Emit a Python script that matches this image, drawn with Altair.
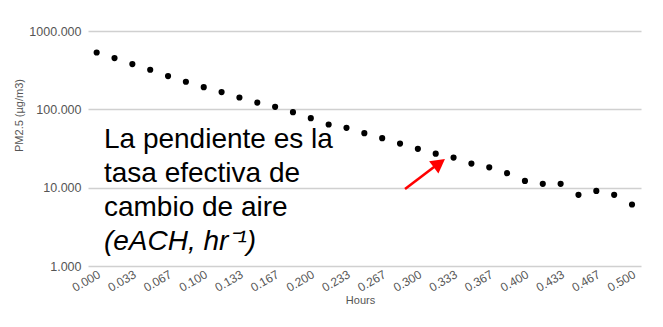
import altair as alt
import pandas as pd

# ---- data ----
minutes = list(range(0, 31))
pm25 = [532, 451, 378, 320, 266, 225, 192, 166, 141.5, 122, 107.6, 92, 77.2, 64, 58,
        49.6, 42.8, 36.5, 31.3, 27.2, 24.2, 20.3, 18.2, 15.3, 12.2, 11.2, 11.2, 8.1, 9.1, 8.1, 6.1]

x_ticks = [0, 1/30, 2/30, 3/30, 4/30, 5/30, 6/30, 7/30, 8/30, 9/30, 10/30,
           11/30, 12/30, 13/30, 14/30, 15/30]
x_tick_labels = ["0.000", "0.033", "0.067", "0.100", "0.133", "0.167", "0.200", "0.233",
                 "0.267", "0.300", "0.333", "0.367", "0.400", "0.433", "0.467", "0.500"]
y_ticks = [1, 10, 100, 1000]

note_lines = ["La pendiente es la", "tasa efectiva de", "cambio de aire"]
note_italic = "(eACH, hr\u207b\u00b9)"
note_x = [0.0068]
note_y = [31.9]
note_italic_y = [1.59]

arrow_tail = [0.288, 9.62]
arrow_end = [0.316, 18.8]
arrow_tip = [0.3253, 23.3]

df = pd.DataFrame({"hours": [m / 60 for m in minutes], "pm": pm25})

FONT = "Liberation Sans"
GRAY = "#555555"
PLOT_W, PLOT_H = 553, 235

xscale = alt.Scale(domain=[-0.0081, 0.5084], nice=False, zero=False)
yscale = alt.Scale(type="log", domain=[1, 1000], nice=False)

points = alt.Chart(df).mark_circle(size=38, color="black", opacity=1).encode(
    x=alt.X("hours:Q", scale=xscale,
            axis=alt.Axis(values=x_ticks, labels=False, title="Hours", grid=False,
                          domain=False, ticks=False,
                          titleFont=FONT, titleFontSize=11, titleFontWeight="normal",
                          titleColor=GRAY, titleX=272, titleY=34,
                          titleBaseline="middle", titleAlign="center")),
    y=alt.Y("pm:Q", scale=yscale,
            axis=alt.Axis(values=y_ticks, format=".3f", title="PM2.5 (\u00b5g/m3)",
                          grid=True, gridColor="#d0d0d0", gridWidth=1.3,
                          domain=False, ticks=False, labelPadding=7,
                          labelFontSize=12.5, labelColor=GRAY, labelFont=FONT,
                          titleFont=FONT, titleFontSize=11, titleFontWeight="normal",
                          titleColor=GRAY, titleX=-69, titleY=84, titleAngle=-90,
                          titleBaseline="middle", titleAlign="center")),
)

tick_df = pd.DataFrame({"x": x_ticks, "lab": x_tick_labels})
tick_labels = alt.Chart(tick_df).mark_text(
    align="right", baseline="middle", angle=330, fontSize=12, font=FONT,
    color=GRAY, dx=3,
).encode(x=alt.X("x:Q", scale=xscale), y=alt.value(PLOT_H + 9), text="lab:N")

note_df = pd.DataFrame({"x": note_x, "y": note_y, "t": [note_lines]})
note = alt.Chart(note_df).mark_text(
    align="left", baseline="alphabetic", fontSize=28, font=FONT, color="black",
    lineHeight=34,
).encode(x=alt.X("x:Q", scale=xscale), y=alt.Y("y:Q", scale=yscale), text="t")

note2_df = pd.DataFrame({"x": note_x, "y": note_italic_y, "t": [note_italic]})
note2 = alt.Chart(note2_df).mark_text(
    align="left", baseline="alphabetic", fontSize=28, font=FONT, color="black",
    fontStyle="italic",
).encode(x=alt.X("x:Q", scale=xscale), y=alt.Y("y:Q", scale=yscale), text="t:N")

arrow_df = pd.DataFrame({"x": [arrow_tail[0]], "y": [arrow_tail[1]],
                         "x2": [arrow_end[0]], "y2": [arrow_end[1]]})
arrow_line = alt.Chart(arrow_df).mark_rule(color="#ff0000", strokeWidth=2.6).encode(
    x=alt.X("x:Q", scale=xscale), y=alt.Y("y:Q", scale=yscale), x2="x2:Q", y2="y2:Q")

head_df = pd.DataFrame({"x": [arrow_tip[0]], "y": [arrow_tip[1]]})
arrow_head = alt.Chart(head_df).mark_point(
    shape="M0,0L-1.1,2L1.1,2Z", size=196, filled=True, color="#ff0000",
    opacity=1, angle=53, strokeWidth=0,
).encode(x=alt.X("x:Q", scale=xscale), y=alt.Y("y:Q", scale=yscale))

chart = alt.layer(points, tick_labels, note, note2, arrow_line, arrow_head).properties(
    width=PLOT_W, height=PLOT_H,
    autosize=alt.AutoSizeParams(type="none"),
    padding={"left": 80, "top": 23, "right": 14, "bottom": 50},
    background="white",
).configure_view(stroke=None)

chart.save("out.html", embed_options={"renderer": "svg", "actions": False})
